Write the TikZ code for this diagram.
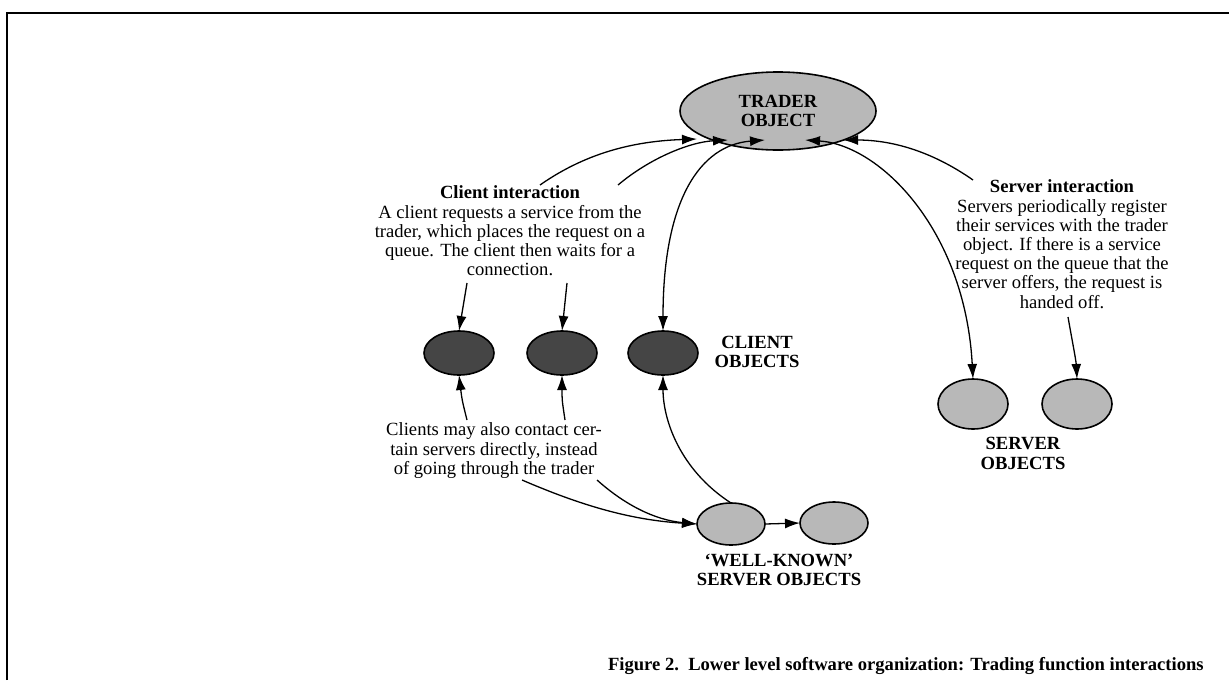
\documentclass[tikz,border=0pt]{standalone}
\usepackage{fontspec}
\setmainfont{Liberation Serif}
\usetikzlibrary{arrows.meta,shapes.geometric}
\definecolor{lightfill}{gray}{0.72}
\definecolor{darkfill}{gray}{0.27}
\begin{document}
\begin{tikzpicture}[x=0.5pt,y=-0.5pt,
  every node/.style={font=\fontsize{9.3}{9.6}\selectfont, inner sep=0pt, outer sep=0pt},
  obj/.style={ellipse, draw, line width=0.8pt},
  lightobj/.style={obj, fill=lightfill},
  darkobj/.style={obj, fill=darkfill},
  clientobj/.style={darkobj, minimum width=35pt, minimum height=22pt},
  serverobj/.style={lightobj, minimum width=35pt, minimum height=25pt},
  wkobj/.style={lightobj, minimum width=34pt, minimum height=21pt},
  tip/.tip={Latex[length=7.5pt,width=5pt]},
  conn/.style={line width=0.65pt, -tip},
  bconn/.style={line width=0.65pt, tip-tip},
  rconn/.style={line width=0.65pt, tip-},
  txt/.style={align=center, anchor=north},
  lbl/.style={align=center, anchor=north, font=\fontsize{9.3}{9.6}\selectfont\bfseries}
]
\useasboundingbox (0,0) rectangle (1229,680);
\draw[line width=0.8pt] (7,680) -- (7,13) -- (1229,13);

% objects
\node[lightobj, minimum width=98pt, minimum height=39pt, align=center,
      font=\fontsize{9.3}{9.6}\selectfont\bfseries] (trader) at (778,111) {TRADER\\OBJECT};
\node[clientobj] (c1) at (459,353) {};
\node[clientobj] (c2) at (562,353) {};
\node[clientobj] (c3) at (663,353) {};
\node[serverobj] (s1) at (973,404) {};
\node[serverobj] (s2) at (1077,404) {};
\node[wkobj] (w1) at (731,524) {};
\node[wkobj] (w2) at (834,523) {};

% labels
\node[lbl] (clientlbl) at (757,336) {CLIENT\\OBJECTS};
\node[lbl] (serverlbl) at (1023,437.5) {SERVER\\OBJECTS};
\node[lbl] (wklbl) at (779,554) {`WELL-KNOWN'\\SERVER OBJECTS};

\node[txt] (clienttxt) at (510,186) {\textbf{Client interaction}\\A client requests a service from the\\trader, which places the request on a\\queue. The client then waits for a\\connection.};
\node[txt] (servertxt) at (1062,180) {\textbf{Server interaction}\\Servers periodically register\\their services with the trader\\object. If there is a service\\request on the queue that the\\server offers, the request is\\handed off.};
\node[txt] (directtxt) at (494,423) {Clients may also contact cer-\\tain servers directly, instead\\of going through the trader};

\node[anchor=base west, font=\fontsize{9.3}{9.6}\selectfont\bfseries] (caption) at (608,670)
  {Figure 2.\ \ Lower level software organization: Trading function interactions};

% connector end points
\coordinate (ca1) at (540,185);
\coordinate (ca2) at (618,185);
\coordinate (ta1) at (697,139);
\coordinate (ta2) at (728,140);
\coordinate (ta3) at (765,140);
\coordinate (ta4) at (805,140);
\coordinate (ta5) at (843,140);
\coordinate (sa1) at (973,180);
\coordinate (sa2) at (1068,317);
\coordinate (cd1) at (467,283);
\coordinate (cd2) at (567,283);
\coordinate (du1) at (467,420);
\coordinate (du2) at (565,420);
\coordinate (dr1) at (522,480);
\coordinate (dr2) at (597,480);

% connectors
\draw[conn] (ca1) .. controls (590,150) and (640,141) .. (ta1);
\draw[conn] (ca2) .. controls (650,158) and (690,142) .. (ta2);
\draw[bconn] (c3.north) .. controls (663,200) and (700,145) .. (ta3);
\draw[conn] (sa1) .. controls (930,150) and (890,140) .. (ta5);
\draw[bconn] (s1.north) .. controls (965,230) and (880,145) .. (ta4);
\draw[conn] (sa2) .. controls (1072,340) and (1076,360) .. (s2.north);
\draw[conn] (cd1) -- (c1.north);
\draw[conn] (cd2) -- (c2.north);
\draw[conn] (du1) .. controls (462,400) .. (c1.south);
\draw[conn] (du2) .. controls (562,400) .. (c2.south);
\draw[rconn] (c3.south) .. controls (663,420) and (680,470) .. (w1.north);
\draw[conn] (dr1) .. controls (580,505) and (630,520) .. (w1.west);
\draw[conn] (dr2) .. controls (625,505) and (655,520) .. (w1.west);
\draw[conn] (w1.east) -- (w2.west);
\end{tikzpicture}
\end{document}
